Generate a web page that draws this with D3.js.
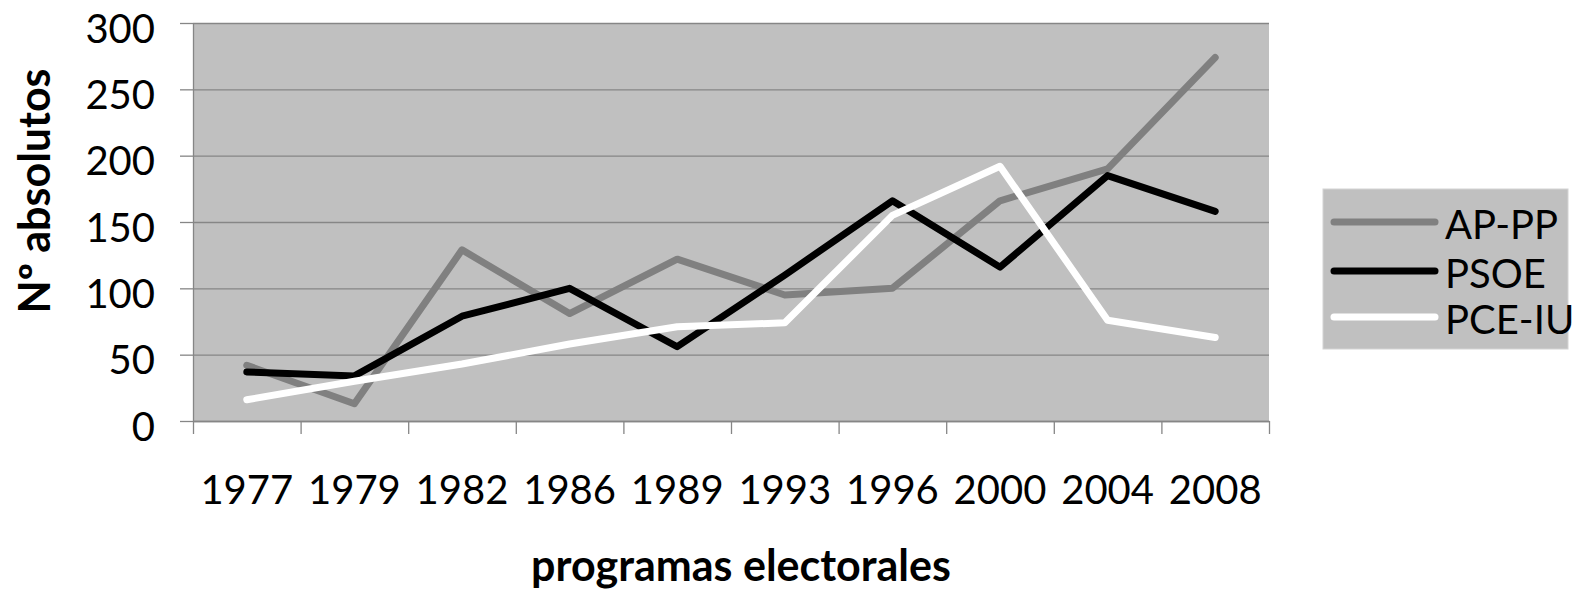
<!DOCTYPE html>
<html>
<head>
<meta charset="utf-8">
<script src="https://cdn.jsdelivr.net/npm/d3@7"></script>
<style>
  body { margin: 0; background: #fff; }
  svg { display: block; font-family: Lato, "Open Sans", sans-serif; }
</style>
</head>
<body>
<div id="chart"></div>
<script>
// datos
const years = ['1977','1979','1982','1986','1989','1993','1996','2000','2004','2008'];
const apPP  = [42, 13, 129, 81, 122, 95, 100, 166, 190, 274];
const psoe  = [37, 34, 79, 100, 56, 110, 166, 116, 185, 158];
const pceIU = [16, 30, 43, 58, 71, 74, 155, 192, 76, 63];
const yTicks = [0, 50, 100, 150, 200, 250, 300];

const series = [
  {name: 'AP-PP',  values: apPP,  color: '#808080'},
  {name: 'PSOE',   values: psoe,  color: '#000000'},
  {name: 'PCE-IU', values: pceIU, color: '#ffffff'}
];

const W = 1577, H = 595;
const plot = {left: 193, right: 1269, top: 23, bottom: 421};
const axisColor = '#868686';
const labelSize = 40;

const svg = d3.select('#chart').append('svg')
  .attr('width', W).attr('height', H);

const x = d3.scaleBand().domain(years).range([plot.left, plot.right]).padding(0);
const y = d3.scaleLinear().domain([0, 300]).range([plot.bottom, plot.top]);

// fondo del área de trazado
svg.append('rect')
  .attr('x', plot.left).attr('y', plot.top)
  .attr('width', plot.right - plot.left).attr('height', plot.bottom - plot.top)
  .attr('fill', '#c0c0c0');

// líneas de cuadrícula
svg.append('g')
  .attr('transform', `translate(${plot.left},0)`)
  .call(d3.axisLeft(y).tickValues(yTicks).tickSize(-(plot.right - plot.left)).tickFormat(''))
  .call(g => g.select('.domain').remove())
  .selectAll('line').attr('stroke', axisColor).attr('stroke-width', 1.3);

// eje Y
const yAxis = svg.append('g')
  .attr('transform', `translate(${plot.left},0)`)
  .call(d3.axisLeft(y).tickValues(yTicks).tickSize(13).tickPadding(25).tickSizeOuter(0));
yAxis.select('.domain').attr('stroke', axisColor).attr('stroke-width', 1.3);
yAxis.selectAll('line').attr('stroke', axisColor).attr('stroke-width', 1.3);
yAxis.selectAll('text')
  .attr('dy', '0.48em')
  .attr('font-size', labelSize).attr('font-family', 'Lato').attr('fill', '#000');

// eje X: marcas en los límites de categoría
const xEdge = d3.scaleLinear().domain([0, years.length]).range([plot.left, plot.right]);
const xTickAxis = svg.append('g')
  .attr('transform', `translate(0,${plot.bottom})`)
  .call(d3.axisBottom(xEdge).tickValues(d3.range(0, years.length + 1)).tickSize(13).tickSizeOuter(0).tickFormat(''));
xTickAxis.select('.domain').attr('stroke', axisColor).attr('stroke-width', 1.3);
xTickAxis.selectAll('line').attr('stroke', axisColor).attr('stroke-width', 1.3);

// etiquetas de categoría
const xAxis = svg.append('g')
  .attr('transform', `translate(0,${plot.bottom})`)
  .call(d3.axisBottom(x).tickSize(0));
xAxis.select('.domain').remove();
xAxis.selectAll('text')
  .attr('y', 83).attr('dy', 0)
  .attr('font-size', labelSize).attr('font-family', 'Lato').attr('fill', '#000');

// líneas de datos
const line = d3.line()
  .x((d, i) => x(years[i]) + x.bandwidth() / 2)
  .y(d => y(d));

svg.append('g').selectAll('path')
  .data(series).join('path')
  .attr('d', d => line(d.values))
  .attr('fill', 'none')
  .attr('stroke', d => d.color)
  .attr('stroke-width', 7)
  .attr('stroke-linecap', 'round')
  .attr('stroke-linejoin', 'round');

// títulos de ejes
svg.append('text')
  .attr('x', 741).attr('y', 581)
  .attr('text-anchor', 'middle')
  .attr('font-size', 43).attr('font-weight', 'bold')
  .text('programas electorales');

svg.append('text')
  .attr('transform', 'translate(50,191) rotate(-90)')
  .attr('text-anchor', 'middle')
  .attr('font-size', 43).attr('font-weight', 'bold')
  .text('Nº absolutos');

// leyenda
const legend = svg.append('g');
legend.append('rect')
  .attr('x', 1323).attr('y', 189).attr('width', 245).attr('height', 160)
  .attr('fill', '#c0c0c0').attr('stroke', '#d4d4d4').attr('stroke-width', 1);
const legY = [222, 271, 317];
const items = legend.selectAll('g.item').data(series).join('g')
  .attr('class', 'item')
  .attr('transform', (d, i) => `translate(0,${legY[i]})`);
items.append('line')
  .attr('x1', 1334).attr('x2', 1435)
  .attr('stroke', d => d.color).attr('stroke-width', 7)
  .attr('stroke-linecap', 'round');
items.append('text')
  .attr('x', 1445).attr('dy', '0.42em')
  .attr('font-size', labelSize)
  .text(d => d.name);
</script>
</body>
</html>
